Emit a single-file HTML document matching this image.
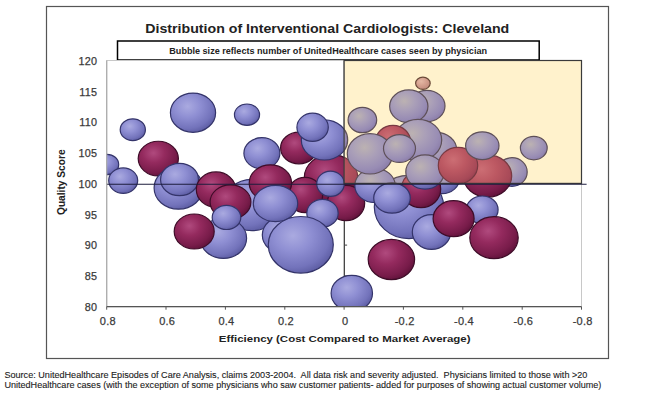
<!DOCTYPE html>
<html><head><meta charset="utf-8"><style>
html,body{margin:0;padding:0;background:#fff;width:652px;height:395px;overflow:hidden}
svg{display:block}
text{font-family:"Liberation Sans", sans-serif}
</style></head><body>
<svg width="652" height="395" viewBox="0 0 652 395">
<defs><radialGradient id="gL" cx="38%" cy="34%" r="70%" fx="38%" fy="34%"><stop offset="0" stop-color="#aaaae0"/><stop offset="0.4" stop-color="#8f8fd3"/><stop offset="0.8" stop-color="#7373bb"/><stop offset="1" stop-color="#5c5ca2"/></radialGradient><radialGradient id="gM" cx="38%" cy="34%" r="70%" fx="38%" fy="34%"><stop offset="0" stop-color="#b04a7e"/><stop offset="0.4" stop-color="#942a5e"/><stop offset="0.8" stop-color="#781c4a"/><stop offset="1" stop-color="#60123a"/></radialGradient><radialGradient id="gLy" cx="38%" cy="34%" r="70%" fx="38%" fy="34%"><stop offset="0" stop-color="#bcb2b2"/><stop offset="0.4" stop-color="#aa9fb8"/><stop offset="0.8" stop-color="#988cb4"/><stop offset="1" stop-color="#8a7ca8"/></radialGradient><radialGradient id="gMy" cx="38%" cy="34%" r="70%" fx="38%" fy="34%"><stop offset="0" stop-color="#cc6e74"/><stop offset="0.45" stop-color="#bc5862"/><stop offset="0.85" stop-color="#a84a58"/><stop offset="1" stop-color="#984050"/></radialGradient><radialGradient id="gS" cx="38%" cy="34%" r="70%" fx="38%" fy="34%"><stop offset="0" stop-color="#e4b8a4"/><stop offset="0.5" stop-color="#d4a08e"/><stop offset="1" stop-color="#c08a7c"/></radialGradient>
<clipPath id="plot"><rect x="106.7" y="60.5" width="474.8" height="246.2"/></clipPath>
<clipPath id="yel"><rect x="344.1" y="60.5" width="237.39999999999998" height="122.9"/></clipPath>
</defs>
<rect x="0" y="0" width="652" height="395" fill="#fff"/>
<rect x="46.5" y="6.5" width="562" height="352" fill="#fff" stroke="#555" stroke-width="1.2"/>

<text x="145.3" y="32.5" font-size="12.6" font-weight="bold" fill="#222" textLength="364" lengthAdjust="spacingAndGlyphs">Distribution of Interventional Cardiologists: Cleveland</text>
<rect x="117.5" y="41" width="421.7" height="19" fill="#fff" stroke="#000" stroke-width="1.5"/>
<text x="169.3" y="53.6" font-size="8.7" font-weight="bold" fill="#222" textLength="317.7" lengthAdjust="spacingAndGlyphs">Bubble size reflects number of UnitedHealthcare cases seen by physician</text>
<rect x="106.7" y="60.5" width="474.8" height="246.2" fill="#fff" stroke="#c8c8c8" stroke-width="1"/>
<line x1="344.3" y1="60.5" x2="344.3" y2="306.7" stroke="#333" stroke-width="1.2"/>
<line x1="344.1" y1="275.9" x2="347.1" y2="275.9" stroke="#444" stroke-width="1"/>
<line x1="344.1" y1="245.1" x2="347.1" y2="245.1" stroke="#444" stroke-width="1"/>
<line x1="344.1" y1="214.4" x2="347.1" y2="214.4" stroke="#444" stroke-width="1"/>
<line x1="344.1" y1="183.6" x2="347.1" y2="183.6" stroke="#444" stroke-width="1"/>
<line x1="344.1" y1="152.8" x2="347.1" y2="152.8" stroke="#444" stroke-width="1"/>
<line x1="344.1" y1="122.0" x2="347.1" y2="122.0" stroke="#444" stroke-width="1"/>
<line x1="344.1" y1="91.3" x2="347.1" y2="91.3" stroke="#444" stroke-width="1"/>
<g clip-path="url(#plot)"><ellipse cx="107" cy="164.5" rx="11.70" ry="10.20" fill="url(#gL)" stroke="#34346a" stroke-width="1.2"/>
<ellipse cx="123.2" cy="180.6" rx="14.50" ry="12.70" fill="url(#gL)" stroke="#34346a" stroke-width="1.2"/>
<ellipse cx="132.8" cy="129.7" rx="12.60" ry="10.90" fill="url(#gL)" stroke="#34346a" stroke-width="1.2"/>
<ellipse cx="193" cy="112.7" rx="22.60" ry="19.60" fill="url(#gL)" stroke="#34346a" stroke-width="1.2"/>
<ellipse cx="247" cy="114.7" rx="12.55" ry="10.70" fill="url(#gL)" stroke="#34346a" stroke-width="1.2"/>
<ellipse cx="158.3" cy="158.6" rx="20.10" ry="17.35" fill="url(#gM)" stroke="#3e0c28" stroke-width="1.2"/>
<ellipse cx="178.5" cy="188" rx="24.40" ry="21.20" fill="url(#gL)" stroke="#34346a" stroke-width="1.2"/>
<ellipse cx="179.5" cy="179.5" rx="18.95" ry="16.20" fill="url(#gL)" stroke="#34346a" stroke-width="1.2"/>
<ellipse cx="216" cy="189.6" rx="19.70" ry="17.70" fill="url(#gM)" stroke="#3e0c28" stroke-width="1.2"/>
<ellipse cx="252" cy="205" rx="28.70" ry="25.70" fill="url(#gL)" stroke="#34346a" stroke-width="1.2"/>
<ellipse cx="230.5" cy="202" rx="20.40" ry="17.20" fill="url(#gM)" stroke="#3e0c28" stroke-width="1.2"/>
<ellipse cx="223.4" cy="238.2" rx="23.20" ry="20.20" fill="url(#gL)" stroke="#34346a" stroke-width="1.2"/>
<ellipse cx="194.2" cy="231.5" rx="20.00" ry="17.50" fill="url(#gM)" stroke="#3e0c28" stroke-width="1.2"/>
<ellipse cx="226.5" cy="217.4" rx="14.30" ry="12.10" fill="url(#gL)" stroke="#34346a" stroke-width="1.2"/>
<ellipse cx="261.9" cy="153.3" rx="18.00" ry="15.60" fill="url(#gL)" stroke="#34346a" stroke-width="1.2"/>
<ellipse cx="298.9" cy="148" rx="18.30" ry="15.80" fill="url(#gM)" stroke="#3e0c28" stroke-width="1.2"/>
<ellipse cx="331" cy="177.5" rx="26.70" ry="23.20" fill="url(#gM)" stroke="#3e0c28" stroke-width="1.2"/>
<ellipse cx="324.5" cy="139.9" rx="23.20" ry="20.10" fill="url(#gL)" stroke="#34346a" stroke-width="1.2"/>
<ellipse cx="312.6" cy="127.3" rx="15.70" ry="14.10" fill="url(#gL)" stroke="#34346a" stroke-width="1.2"/>
<ellipse cx="305" cy="195" rx="17.70" ry="17.70" fill="url(#gM)" stroke="#3e0c28" stroke-width="1.2"/>
<ellipse cx="270.4" cy="183" rx="21.20" ry="18.20" fill="url(#gM)" stroke="#3e0c28" stroke-width="1.2"/>
<ellipse cx="284" cy="235" rx="21.70" ry="18.70" fill="url(#gL)" stroke="#34346a" stroke-width="1.2"/>
<ellipse cx="275.5" cy="203.5" rx="22.20" ry="18.20" fill="url(#gL)" stroke="#34346a" stroke-width="1.2"/>
<ellipse cx="346" cy="203" rx="18.70" ry="17.70" fill="url(#gM)" stroke="#3e0c28" stroke-width="1.2"/>
<ellipse cx="330.5" cy="183.8" rx="13.80" ry="12.60" fill="url(#gL)" stroke="#34346a" stroke-width="1.2"/>
<ellipse cx="322.5" cy="213.2" rx="15.70" ry="13.90" fill="url(#gL)" stroke="#34346a" stroke-width="1.2"/>
<ellipse cx="300.8" cy="244.8" rx="32.50" ry="28.30" fill="url(#gL)" stroke="#34346a" stroke-width="1.2"/>
<ellipse cx="351.8" cy="293.3" rx="20.70" ry="18.00" fill="url(#gL)" stroke="#34346a" stroke-width="1.2"/>
<ellipse cx="426.8" cy="106" rx="18.20" ry="15.70" fill="url(#gL)" stroke="#34346a" stroke-width="1.2"/>
<ellipse cx="408.8" cy="106.3" rx="19.15" ry="16.35" fill="url(#gL)" stroke="#34346a" stroke-width="1.2"/>
<ellipse cx="422.9" cy="83.3" rx="7.30" ry="6.10" fill="url(#gS)" stroke="#6a4a38" stroke-width="1.2"/>
<ellipse cx="362.4" cy="120" rx="14.30" ry="12.70" fill="url(#gL)" stroke="#34346a" stroke-width="1.2"/>
<ellipse cx="436" cy="150" rx="20.70" ry="17.70" fill="url(#gL)" stroke="#34346a" stroke-width="1.2"/>
<ellipse cx="442" cy="178" rx="17.70" ry="15.70" fill="url(#gL)" stroke="#34346a" stroke-width="1.2"/>
<ellipse cx="418" cy="140" rx="23.70" ry="20.70" fill="url(#gL)" stroke="#34346a" stroke-width="1.2"/>
<ellipse cx="393" cy="142" rx="17.70" ry="16.70" fill="url(#gM)" stroke="#3e0c28" stroke-width="1.2"/>
<ellipse cx="409" cy="207" rx="34.70" ry="31.70" fill="url(#gL)" stroke="#34346a" stroke-width="1.2"/>
<ellipse cx="375" cy="185.5" rx="20.20" ry="17.20" fill="url(#gL)" stroke="#34346a" stroke-width="1.2"/>
<ellipse cx="370" cy="153.8" rx="22.70" ry="20.20" fill="url(#gL)" stroke="#34346a" stroke-width="1.2"/>
<ellipse cx="399.5" cy="148.5" rx="16.00" ry="13.90" fill="url(#gL)" stroke="#34346a" stroke-width="1.2"/>
<ellipse cx="421" cy="189" rx="19.70" ry="18.70" fill="url(#gM)" stroke="#3e0c28" stroke-width="1.2"/>
<ellipse cx="425" cy="172" rx="19.20" ry="17.20" fill="url(#gL)" stroke="#34346a" stroke-width="1.2"/>
<ellipse cx="392" cy="198" rx="18.30" ry="15.20" fill="url(#gL)" stroke="#34346a" stroke-width="1.2"/>
<ellipse cx="431.5" cy="232" rx="19.20" ry="17.40" fill="url(#gL)" stroke="#34346a" stroke-width="1.2"/>
<ellipse cx="512" cy="172" rx="15.20" ry="14.30" fill="url(#gL)" stroke="#34346a" stroke-width="1.2"/>
<ellipse cx="487.5" cy="176" rx="24.20" ry="21.20" fill="url(#gM)" stroke="#3e0c28" stroke-width="1.2"/>
<ellipse cx="458" cy="165.5" rx="19.70" ry="18.20" fill="url(#gM)" stroke="#3e0c28" stroke-width="1.2"/>
<ellipse cx="482.3" cy="145.7" rx="16.70" ry="13.90" fill="url(#gL)" stroke="#34346a" stroke-width="1.2"/>
<ellipse cx="533.8" cy="148.1" rx="13.40" ry="11.70" fill="url(#gL)" stroke="#34346a" stroke-width="1.2"/>
<ellipse cx="482.2" cy="209.8" rx="15.90" ry="13.80" fill="url(#gL)" stroke="#34346a" stroke-width="1.2"/>
<ellipse cx="453.6" cy="218.7" rx="20.50" ry="18.00" fill="url(#gM)" stroke="#3e0c28" stroke-width="1.2"/>
<ellipse cx="494" cy="237.7" rx="24.20" ry="21.00" fill="url(#gM)" stroke="#3e0c28" stroke-width="1.2"/>
<ellipse cx="391.4" cy="259.5" rx="23.20" ry="20.05" fill="url(#gM)" stroke="#3e0c28" stroke-width="1.2"/></g>
<rect x="344.1" y="60.5" width="237.39999999999998" height="122.9" fill="#fff2cc"/>
<g clip-path="url(#yel)"><ellipse cx="107" cy="164.5" rx="11.70" ry="10.20" fill="url(#gLy)" stroke="#5e5058" stroke-width="1.2"/>
<ellipse cx="123.2" cy="180.6" rx="14.50" ry="12.70" fill="url(#gLy)" stroke="#5e5058" stroke-width="1.2"/>
<ellipse cx="132.8" cy="129.7" rx="12.60" ry="10.90" fill="url(#gLy)" stroke="#5e5058" stroke-width="1.2"/>
<ellipse cx="193" cy="112.7" rx="22.60" ry="19.60" fill="url(#gLy)" stroke="#5e5058" stroke-width="1.2"/>
<ellipse cx="247" cy="114.7" rx="12.55" ry="10.70" fill="url(#gLy)" stroke="#5e5058" stroke-width="1.2"/>
<ellipse cx="158.3" cy="158.6" rx="20.10" ry="17.35" fill="url(#gMy)" stroke="#783a42" stroke-width="1.2"/>
<ellipse cx="178.5" cy="188" rx="24.40" ry="21.20" fill="url(#gLy)" stroke="#5e5058" stroke-width="1.2"/>
<ellipse cx="179.5" cy="179.5" rx="18.95" ry="16.20" fill="url(#gLy)" stroke="#5e5058" stroke-width="1.2"/>
<ellipse cx="216" cy="189.6" rx="19.70" ry="17.70" fill="url(#gMy)" stroke="#783a42" stroke-width="1.2"/>
<ellipse cx="252" cy="205" rx="28.70" ry="25.70" fill="url(#gLy)" stroke="#5e5058" stroke-width="1.2"/>
<ellipse cx="230.5" cy="202" rx="20.40" ry="17.20" fill="url(#gMy)" stroke="#783a42" stroke-width="1.2"/>
<ellipse cx="223.4" cy="238.2" rx="23.20" ry="20.20" fill="url(#gLy)" stroke="#5e5058" stroke-width="1.2"/>
<ellipse cx="194.2" cy="231.5" rx="20.00" ry="17.50" fill="url(#gMy)" stroke="#783a42" stroke-width="1.2"/>
<ellipse cx="226.5" cy="217.4" rx="14.30" ry="12.10" fill="url(#gLy)" stroke="#5e5058" stroke-width="1.2"/>
<ellipse cx="261.9" cy="153.3" rx="18.00" ry="15.60" fill="url(#gLy)" stroke="#5e5058" stroke-width="1.2"/>
<ellipse cx="298.9" cy="148" rx="18.30" ry="15.80" fill="url(#gMy)" stroke="#783a42" stroke-width="1.2"/>
<ellipse cx="331" cy="177.5" rx="26.70" ry="23.20" fill="url(#gMy)" stroke="#783a42" stroke-width="1.2"/>
<ellipse cx="324.5" cy="139.9" rx="23.20" ry="20.10" fill="url(#gLy)" stroke="#5e5058" stroke-width="1.2"/>
<ellipse cx="312.6" cy="127.3" rx="15.70" ry="14.10" fill="url(#gLy)" stroke="#5e5058" stroke-width="1.2"/>
<ellipse cx="305" cy="195" rx="17.70" ry="17.70" fill="url(#gMy)" stroke="#783a42" stroke-width="1.2"/>
<ellipse cx="270.4" cy="183" rx="21.20" ry="18.20" fill="url(#gMy)" stroke="#783a42" stroke-width="1.2"/>
<ellipse cx="284" cy="235" rx="21.70" ry="18.70" fill="url(#gLy)" stroke="#5e5058" stroke-width="1.2"/>
<ellipse cx="275.5" cy="203.5" rx="22.20" ry="18.20" fill="url(#gLy)" stroke="#5e5058" stroke-width="1.2"/>
<ellipse cx="346" cy="203" rx="18.70" ry="17.70" fill="url(#gMy)" stroke="#783a42" stroke-width="1.2"/>
<ellipse cx="330.5" cy="183.8" rx="13.80" ry="12.60" fill="url(#gLy)" stroke="#5e5058" stroke-width="1.2"/>
<ellipse cx="322.5" cy="213.2" rx="15.70" ry="13.90" fill="url(#gLy)" stroke="#5e5058" stroke-width="1.2"/>
<ellipse cx="300.8" cy="244.8" rx="32.50" ry="28.30" fill="url(#gLy)" stroke="#5e5058" stroke-width="1.2"/>
<ellipse cx="351.8" cy="293.3" rx="20.70" ry="18.00" fill="url(#gLy)" stroke="#5e5058" stroke-width="1.2"/>
<ellipse cx="426.8" cy="106" rx="18.20" ry="15.70" fill="url(#gLy)" stroke="#5e5058" stroke-width="1.2"/>
<ellipse cx="408.8" cy="106.3" rx="19.15" ry="16.35" fill="url(#gLy)" stroke="#5e5058" stroke-width="1.2"/>
<ellipse cx="422.9" cy="83.3" rx="7.30" ry="6.10" fill="url(#gS)" stroke="#6a4a38" stroke-width="1.2"/>
<ellipse cx="362.4" cy="120" rx="14.30" ry="12.70" fill="url(#gLy)" stroke="#5e5058" stroke-width="1.2"/>
<ellipse cx="436" cy="150" rx="20.70" ry="17.70" fill="url(#gLy)" stroke="#5e5058" stroke-width="1.2"/>
<ellipse cx="442" cy="178" rx="17.70" ry="15.70" fill="url(#gLy)" stroke="#5e5058" stroke-width="1.2"/>
<ellipse cx="418" cy="140" rx="23.70" ry="20.70" fill="url(#gLy)" stroke="#5e5058" stroke-width="1.2"/>
<ellipse cx="393" cy="142" rx="17.70" ry="16.70" fill="url(#gMy)" stroke="#783a42" stroke-width="1.2"/>
<ellipse cx="409" cy="207" rx="34.70" ry="31.70" fill="url(#gLy)" stroke="#5e5058" stroke-width="1.2"/>
<ellipse cx="375" cy="185.5" rx="20.20" ry="17.20" fill="url(#gLy)" stroke="#5e5058" stroke-width="1.2"/>
<ellipse cx="370" cy="153.8" rx="22.70" ry="20.20" fill="url(#gLy)" stroke="#5e5058" stroke-width="1.2"/>
<ellipse cx="399.5" cy="148.5" rx="16.00" ry="13.90" fill="url(#gLy)" stroke="#5e5058" stroke-width="1.2"/>
<ellipse cx="421" cy="189" rx="19.70" ry="18.70" fill="url(#gMy)" stroke="#783a42" stroke-width="1.2"/>
<ellipse cx="425" cy="172" rx="19.20" ry="17.20" fill="url(#gLy)" stroke="#5e5058" stroke-width="1.2"/>
<ellipse cx="392" cy="198" rx="18.30" ry="15.20" fill="url(#gLy)" stroke="#5e5058" stroke-width="1.2"/>
<ellipse cx="431.5" cy="232" rx="19.20" ry="17.40" fill="url(#gLy)" stroke="#5e5058" stroke-width="1.2"/>
<ellipse cx="512" cy="172" rx="15.20" ry="14.30" fill="url(#gLy)" stroke="#5e5058" stroke-width="1.2"/>
<ellipse cx="487.5" cy="176" rx="24.20" ry="21.20" fill="url(#gMy)" stroke="#783a42" stroke-width="1.2"/>
<ellipse cx="458" cy="165.5" rx="19.70" ry="18.20" fill="url(#gMy)" stroke="#783a42" stroke-width="1.2"/>
<ellipse cx="482.3" cy="145.7" rx="16.70" ry="13.90" fill="url(#gLy)" stroke="#5e5058" stroke-width="1.2"/>
<ellipse cx="533.8" cy="148.1" rx="13.40" ry="11.70" fill="url(#gLy)" stroke="#5e5058" stroke-width="1.2"/>
<ellipse cx="482.2" cy="209.8" rx="15.90" ry="13.80" fill="url(#gLy)" stroke="#5e5058" stroke-width="1.2"/>
<ellipse cx="453.6" cy="218.7" rx="20.50" ry="18.00" fill="url(#gMy)" stroke="#783a42" stroke-width="1.2"/>
<ellipse cx="494" cy="237.7" rx="24.20" ry="21.00" fill="url(#gMy)" stroke="#783a42" stroke-width="1.2"/>
<ellipse cx="391.4" cy="259.5" rx="23.20" ry="20.05" fill="url(#gMy)" stroke="#783a42" stroke-width="1.2"/></g>
<rect x="344.1" y="60.5" width="237.39999999999998" height="122.9" fill="none" stroke="#3a3a3a" stroke-width="1.2"/>
<line x1="106.7" y1="184.3" x2="586.6" y2="184.3" stroke="#1c1c3c" stroke-width="1.1"/>
<line x1="106.7" y1="60.5" x2="106.7" y2="306.7" stroke="#aaa" stroke-width="1.2"/>
<line x1="106.7" y1="306.7" x2="581.5" y2="306.7" stroke="#555" stroke-width="1.2"/>
<line x1="106.7" y1="306.7" x2="106.7" y2="309.7" stroke="#555" stroke-width="1"/>
<text x="107.8" y="325" font-size="11" letter-spacing="0.2" fill="#3a3a3a" stroke="#3a3a3a" stroke-width="0.25" text-anchor="middle">0.8</text>
<line x1="166.0" y1="306.7" x2="166.0" y2="309.7" stroke="#555" stroke-width="1"/>
<text x="167.1" y="325" font-size="11" letter-spacing="0.2" fill="#3a3a3a" stroke="#3a3a3a" stroke-width="0.25" text-anchor="middle">0.6</text>
<line x1="225.4" y1="306.7" x2="225.4" y2="309.7" stroke="#555" stroke-width="1"/>
<text x="226.5" y="325" font-size="11" letter-spacing="0.2" fill="#3a3a3a" stroke="#3a3a3a" stroke-width="0.25" text-anchor="middle">0.4</text>
<line x1="284.8" y1="306.7" x2="284.8" y2="309.7" stroke="#555" stroke-width="1"/>
<text x="285.9" y="325" font-size="11" letter-spacing="0.2" fill="#3a3a3a" stroke="#3a3a3a" stroke-width="0.25" text-anchor="middle">0.2</text>
<line x1="344.1" y1="306.7" x2="344.1" y2="309.7" stroke="#555" stroke-width="1"/>
<text x="345.2" y="325" font-size="11" letter-spacing="0.2" fill="#3a3a3a" stroke="#3a3a3a" stroke-width="0.25" text-anchor="middle">0</text>
<line x1="403.4" y1="306.7" x2="403.4" y2="309.7" stroke="#555" stroke-width="1"/>
<text x="404.6" y="325" font-size="11" letter-spacing="0.2" fill="#3a3a3a" stroke="#3a3a3a" stroke-width="0.25" text-anchor="middle">-0.2</text>
<line x1="462.8" y1="306.7" x2="462.8" y2="309.7" stroke="#555" stroke-width="1"/>
<text x="463.9" y="325" font-size="11" letter-spacing="0.2" fill="#3a3a3a" stroke="#3a3a3a" stroke-width="0.25" text-anchor="middle">-0.4</text>
<line x1="522.2" y1="306.7" x2="522.2" y2="309.7" stroke="#555" stroke-width="1"/>
<text x="523.3" y="325" font-size="11" letter-spacing="0.2" fill="#3a3a3a" stroke="#3a3a3a" stroke-width="0.25" text-anchor="middle">-0.6</text>
<line x1="581.5" y1="306.7" x2="581.5" y2="309.7" stroke="#555" stroke-width="1"/>
<text x="582.6" y="325" font-size="11" letter-spacing="0.2" fill="#3a3a3a" stroke="#3a3a3a" stroke-width="0.25" text-anchor="middle">-0.8</text>
<text x="97.3" y="310.9" font-size="10.8" letter-spacing="0.25" fill="#3a3a3a" stroke="#3a3a3a" stroke-width="0.25" text-anchor="end">80</text>
<text x="97.3" y="280.1" font-size="10.8" letter-spacing="0.25" fill="#3a3a3a" stroke="#3a3a3a" stroke-width="0.25" text-anchor="end">85</text>
<text x="97.3" y="249.3" font-size="10.8" letter-spacing="0.25" fill="#3a3a3a" stroke="#3a3a3a" stroke-width="0.25" text-anchor="end">90</text>
<text x="97.3" y="218.6" font-size="10.8" letter-spacing="0.25" fill="#3a3a3a" stroke="#3a3a3a" stroke-width="0.25" text-anchor="end">95</text>
<text x="97.3" y="187.8" font-size="10.8" letter-spacing="0.25" fill="#3a3a3a" stroke="#3a3a3a" stroke-width="0.25" text-anchor="end">100</text>
<text x="97.3" y="157.0" font-size="10.8" letter-spacing="0.25" fill="#3a3a3a" stroke="#3a3a3a" stroke-width="0.25" text-anchor="end">105</text>
<text x="97.3" y="126.2" font-size="10.8" letter-spacing="0.25" fill="#3a3a3a" stroke="#3a3a3a" stroke-width="0.25" text-anchor="end">110</text>
<text x="97.3" y="95.5" font-size="10.8" letter-spacing="0.25" fill="#3a3a3a" stroke="#3a3a3a" stroke-width="0.25" text-anchor="end">115</text>
<text x="97.3" y="64.7" font-size="10.8" letter-spacing="0.25" fill="#3a3a3a" stroke="#3a3a3a" stroke-width="0.25" text-anchor="end">120</text>
<text x="218.8" y="342.2" font-size="9.5" font-weight="bold" fill="#222" textLength="251.7" lengthAdjust="spacingAndGlyphs">Efficiency (Cost Compared to Market Average)</text>
<text transform="translate(64.8,182.2) rotate(-90)" x="0" y="0" font-size="10.2" font-weight="bold" fill="#222" text-anchor="middle">Quality Score</text>
<text x="4.4" y="377.6" font-size="9.2" fill="#222" stroke="#222" stroke-width="0.12" xml:space="preserve" textLength="583" lengthAdjust="spacingAndGlyphs">Source: UnitedHealthcare Episodes of Care Analysis, claims 2003-2004.  All data risk and severity adjusted.  Physicians limited to those with &gt;20</text>
<text x="4.4" y="388.1" font-size="9.2" fill="#222" stroke="#222" stroke-width="0.12" xml:space="preserve" textLength="597" lengthAdjust="spacingAndGlyphs">UnitedHealthcare cases (with the exception of some physicians who saw customer patients- added for purposes of showing actual customer volume)</text>
</svg></body></html>
